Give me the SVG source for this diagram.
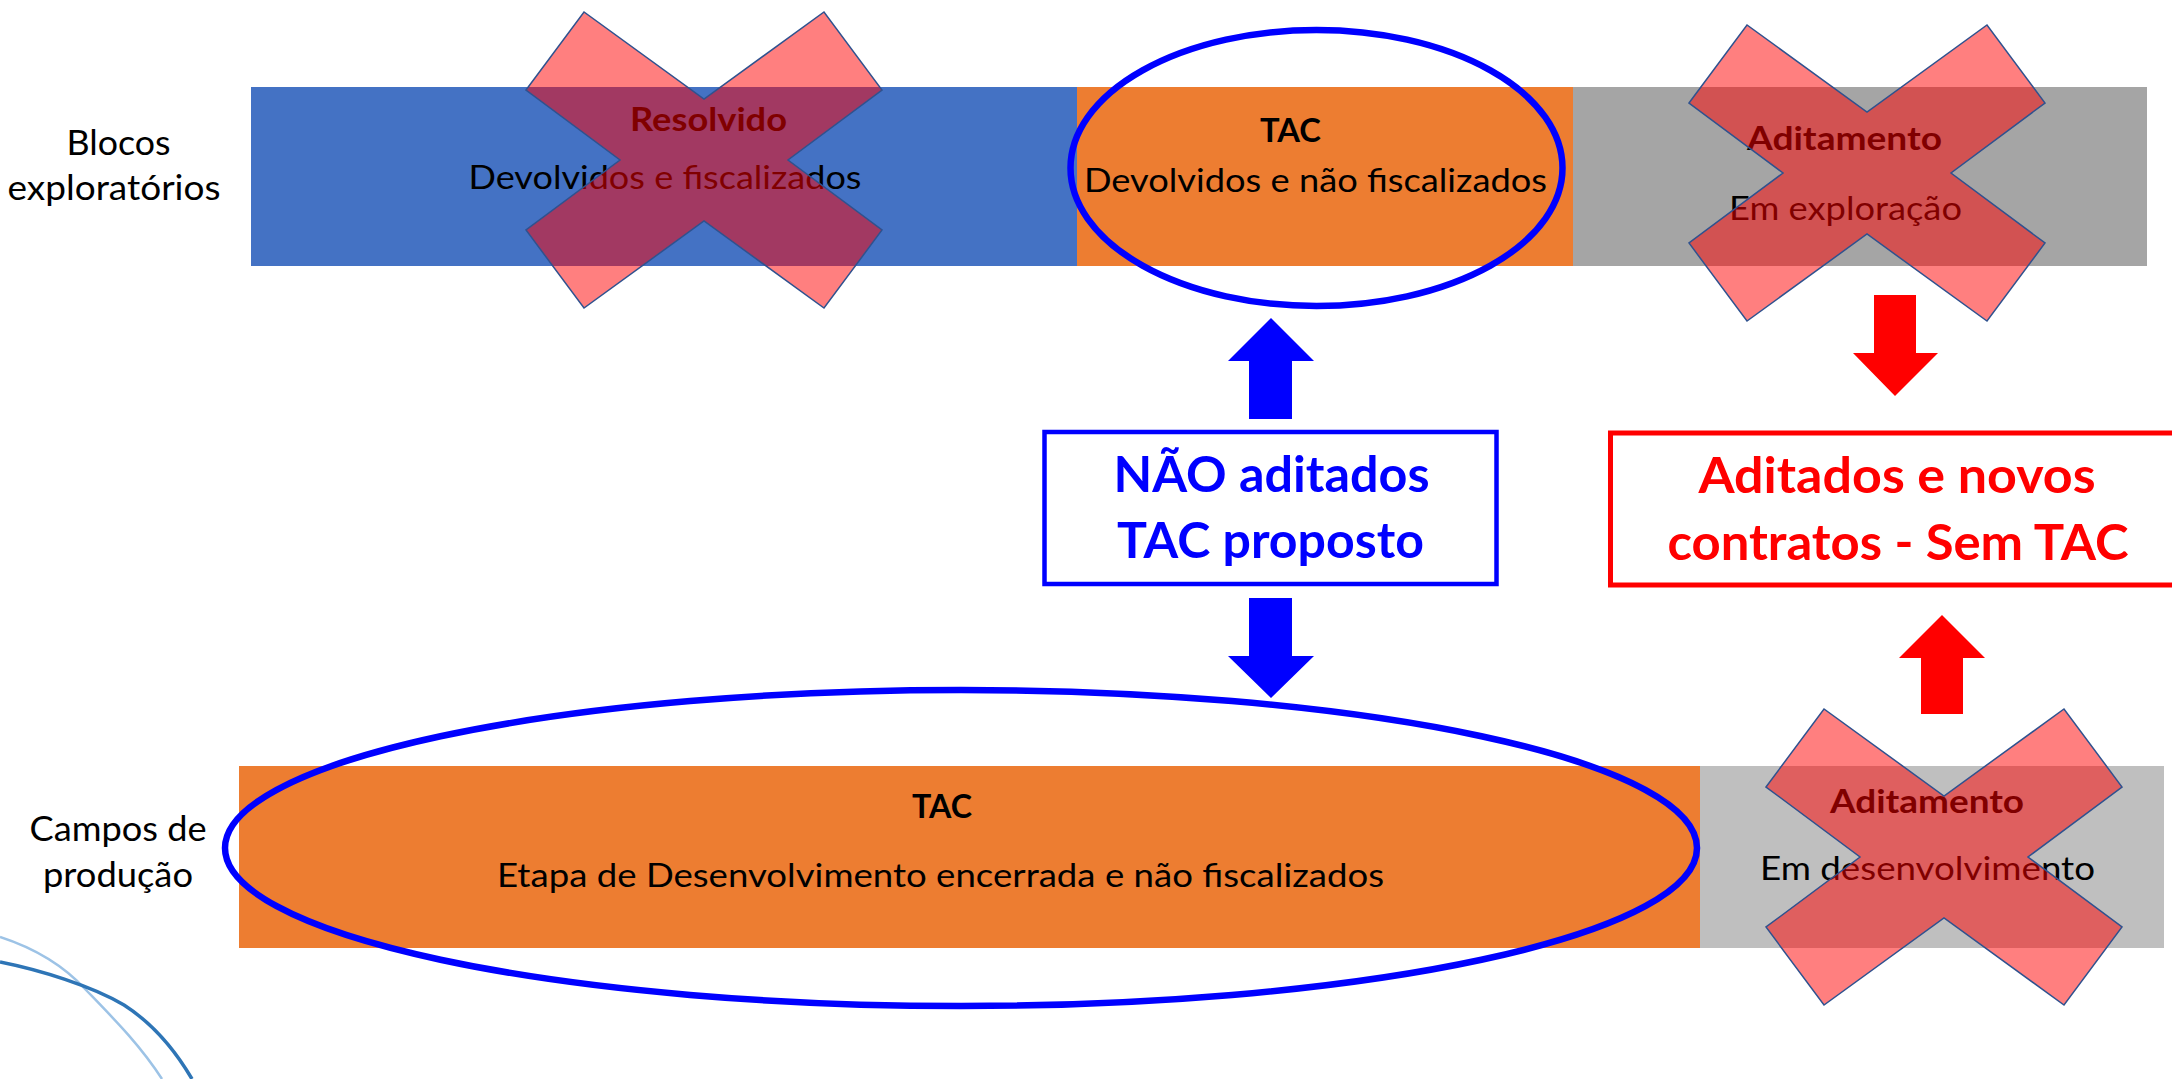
<svg xmlns="http://www.w3.org/2000/svg" width="2172" height="1079" viewBox="0 0 2172 1079">
<style>
text{font-family:Lato,"Open Sans","Liberation Sans",sans-serif;fill:#000;text-anchor:middle}
.lbl{font-size:34px}
.t{font-size:33px}
.b{font-weight:bold}
.big{font-size:50px;font-weight:bold}
.x{fill:#FF0000;fill-opacity:0.5;stroke:#2F528F;stroke-width:1.5;stroke-linejoin:miter}
.ell{fill:none;stroke:#0000FF;stroke-width:6.5}
.deco{fill:none}
</style>
<defs>
<polygon id="xshape" points="-178,-70 -120,-148 0,-61 120,-148 178,-70 84,0 178,70 120,148 0,61 -120,148 -178,70 -84,0"/>
</defs>
<rect width="2172" height="1079" fill="#FFFFFF"/>

<g id="decor">
<path class="deco" d="M0,937 C40,950 66,968 86,990 C115,1020 140,1045 162,1079" stroke="#9DC3E6" stroke-width="2.5"/>
<path class="deco" d="M0,962 C40,970 92,986 124,1005 C152,1023 175,1050 192,1079" stroke="#2E75B6" stroke-width="3.5"/>
</g>

<g id="label-blocos">
<text class="lbl" x="118.5" y="155" textLength="104" lengthAdjust="spacingAndGlyphs">Blocos</text>
<text class="lbl" x="114" y="200" textLength="213" lengthAdjust="spacingAndGlyphs">exploratórios</text>
</g>
<g id="label-campos">
<text class="lbl" x="118" y="841" textLength="177" lengthAdjust="spacingAndGlyphs">Campos de</text>
<text class="lbl" x="118" y="887" textLength="150" lengthAdjust="spacingAndGlyphs">produção</text>
</g>

<g id="resolvido">
<rect x="251" y="87" width="826" height="179" fill="#4472C4"/>
<text class="t b" x="708.5" y="131" textLength="157" lengthAdjust="spacingAndGlyphs">Resolvido</text>
<text class="t" x="665" y="189" textLength="393" lengthAdjust="spacingAndGlyphs">Devolvidos e fiscalizados</text>
</g>

<g id="tac-blocos">
<rect x="1077" y="87" width="496" height="179" fill="#ED7D31"/>
<text class="t b" x="1290.5" y="142" textLength="61" lengthAdjust="spacingAndGlyphs">TAC</text>
<text class="t" x="1315.5" y="192" textLength="463" lengthAdjust="spacingAndGlyphs">Devolvidos e não fiscalizados</text>
</g>

<g id="aditamento-blocos">
<rect x="1573" y="87" width="574" height="179" fill="#A5A5A5"/>
<text class="t b" x="1844.5" y="150" textLength="195" lengthAdjust="spacingAndGlyphs">Aditamento</text>
<text class="t" x="1845.5" y="220" textLength="233" lengthAdjust="spacingAndGlyphs">Em exploração</text>
</g>

<g id="tac-campos">
<rect x="239" y="766" width="1461" height="182" fill="#ED7D31"/>
<text class="t b" x="942" y="818" textLength="60" lengthAdjust="spacingAndGlyphs">TAC</text>
<text class="t" x="940.5" y="887" textLength="887" lengthAdjust="spacingAndGlyphs">Etapa de Desenvolvimento encerrada e não fiscalizados</text>
</g>

<g id="aditamento-campos">
<rect x="1700" y="766" width="464" height="182" fill="#BFBFBF"/>
<text class="t b" x="1927" y="813" textLength="194" lengthAdjust="spacingAndGlyphs">Aditamento</text>
<text class="t" x="1927.5" y="880" textLength="335" lengthAdjust="spacingAndGlyphs">Em desenvolvimento</text>
</g>

<g id="ellipse-top">
<ellipse class="ell" cx="1316.5" cy="168" rx="246" ry="138"/>
</g>
<g id="ellipse-bottom">
<ellipse class="ell" cx="961" cy="848" rx="736" ry="158"/>
</g>

<g id="nao-aditados">
<rect x="1044.5" y="432" width="452" height="152" fill="#FFFFFF" stroke="#0000FF" stroke-width="4.5"/>
<text class="big" x="1271.5" y="492" style="fill:#0000FF" textLength="316" lengthAdjust="spacingAndGlyphs">NÃO aditados</text>
<text class="big" x="1270.5" y="558" style="fill:#0000FF" textLength="307" lengthAdjust="spacingAndGlyphs">TAC proposto</text>
</g>

<g id="aditados-novos">
<rect x="1610.5" y="433" width="570" height="152" fill="#FFFFFF" stroke="#FF0000" stroke-width="5"/>
<text class="big" x="1897" y="493" style="fill:#FF0000" textLength="397" lengthAdjust="spacingAndGlyphs">Aditados e novos</text>
<text class="big" x="1898" y="560" style="fill:#FF0000" textLength="461" lengthAdjust="spacingAndGlyphs">contratos - Sem TAC</text>
</g>

<g id="connectors">
<polygon fill="#0000FF" points="1271,318 1314,361 1292,361 1292,419 1249,419 1249,361 1228,361"/>
<polygon fill="#0000FF" points="1249,598 1292,598 1292,656 1314,656 1271,698 1228,656 1249,656"/>
<polygon fill="#FF0000" points="1874,295 1916,295 1916,353 1938,353 1895,396 1853,353 1874,353"/>
<polygon fill="#FF0000" points="1942,615 1985,658 1963,658 1963,714 1921,714 1921,658 1899,658"/>
</g>

<g id="x-resolvido"><use href="#xshape" class="x" transform="translate(704,160)"/></g>
<g id="x-aditamento-blocos"><use href="#xshape" class="x" transform="translate(1867,173)"/></g>
<g id="x-aditamento-campos"><use href="#xshape" class="x" transform="translate(1944,857)"/></g>
</svg>
